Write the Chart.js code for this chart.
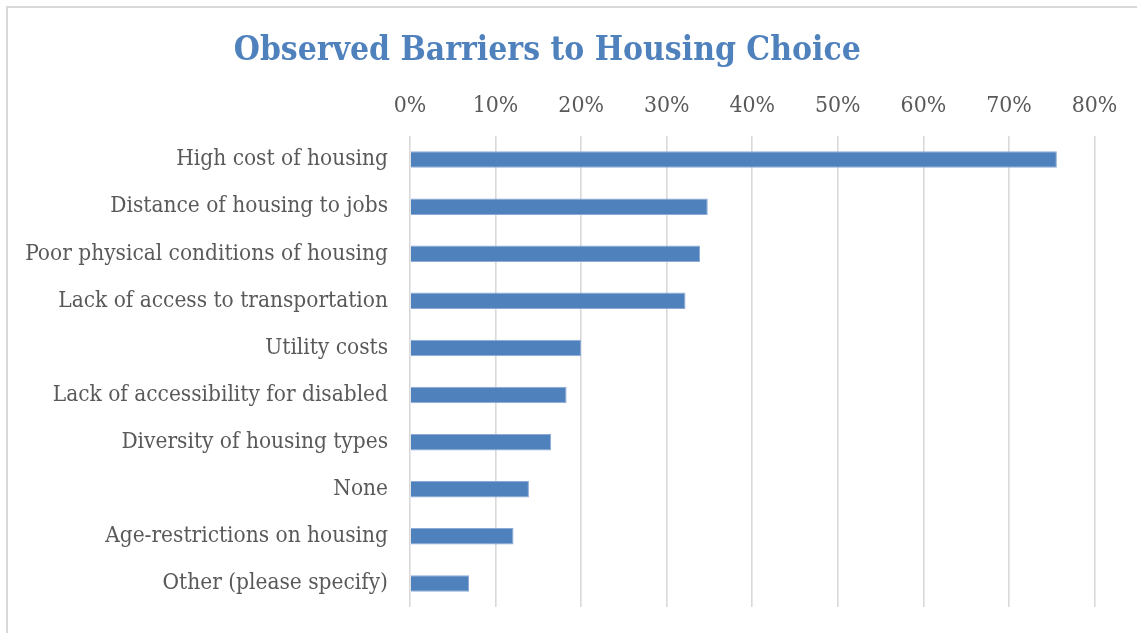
<!DOCTYPE html>
<html>
<head>
<meta charset="utf-8">
<script src="https://cdn.jsdelivr.net/npm/chart.js@4"></script>
<style>
  html, body { margin: 0; padding: 0; background: #fff; overflow: hidden; }
  #wrap { position: relative; width: 1137px; height: 633px; }
  #frame { position: absolute; left: 6px; top: 6px; width: 1160px; height: 660px;
           border: 2px solid #d9d9d9; box-sizing: border-box; pointer-events: none; }
  canvas { position: absolute; left: 0; top: 0; }
</style>
</head>
<body>
<div id="wrap">
  <canvas id="c" width="1137" height="633"></canvas>
  <div id="frame"></div>
</div>
<script>
const titleText = 'Observed Barriers to Housing Choice';
const categories = [
  'High cost of housing',
  'Distance of housing to jobs',
  'Poor physical conditions of housing',
  'Lack of access to transportation',
  'Utility costs',
  'Lack of accessibility for disabled',
  'Diversity of housing types',
  'None',
  'Age-restrictions on housing',
  'Other (please specify)'
];
const values = [75.6, 34.8, 33.9, 32.2, 20.0, 18.3, 16.5, 13.9, 12.1, 6.9];
const tickMin = 0;
const tickMax = 80;
const tickStep = 10;

const FAMILY = '"DejaVu Serif Condensed", "DejaVu Serif", serif';
const mctx = document.createElement('canvas').getContext('2d');
function fitSize(text, targetWidth, weight) {
  mctx.font = (weight || 'normal') + ' 100px ' + FAMILY;
  return 100 * targetWidth / mctx.measureText(text).width;
}
const titleSize = fitSize(titleText, 627, 'bold');
const labelSize = fitSize('Poor physical conditions of housing', 363);
const tickSize = fitSize('10%', 45.6);

const CHART_TOP = 136;
const TITLE_TOP = 51 - titleSize * 0.6;
const TITLE_BOTTOM = TITLE_TOP + titleSize * 1.2;
const TICK_Y = 106.5;

new Chart(document.getElementById('c'), {
  type: 'bar',
  data: {
    labels: categories,
    datasets: [{
      data: values,
      backgroundColor: '#4F81BD',
      borderColor: '#8DAAD6',
      borderWidth: 1,
      borderSkipped: 'start',
      barPercentage: 0.35,
      categoryPercentage: 1.0
    }]
  },
  options: {
    indexAxis: 'y',
    responsive: false,
    animation: false,
    devicePixelRatio: 1,
    layout: { padding: { left: 0, right: 42.5, top: 0, bottom: 26 } },
    plugins: {
      legend: { display: false },
      tooltip: { enabled: false },
      title: {
        display: true,
        text: titleText,
        color: '#4F81BD',
        font: { family: FAMILY, size: titleSize, weight: 'bold', lineHeight: 1.2 },
        padding: { top: TITLE_TOP, bottom: 0 }
      }
    },
    scales: {
      x: {
        type: 'linear',
        position: 'top',
        min: tickMin,
        max: tickMax,
        ticks: {
          stepSize: tickStep,
          color: '#595959',
          font: { family: FAMILY, size: tickSize, lineHeight: 1.2 },
          padding: CHART_TOP - TICK_Y - tickSize * 0.6,
          maxRotation: 0,
          callback: v => v + '%'
        },
        grid: { color: '#d9d9d9', lineWidth: 1.6, drawTicks: false },
        border: { display: false },
        afterFit: s => { s.height = CHART_TOP - TITLE_BOTTOM; s.paddingLeft = 0; s.paddingRight = 0; }
      },
      y: {
        ticks: {
          color: '#595959',
          font: { family: FAMILY, size: labelSize, lineHeight: 1.2 },
          padding: 22,
          autoSkip: false
        },
        grid: { display: false, drawTicks: false },
        border: { display: false },
        afterFit: s => { s.width = 410; s.paddingTop = 0; s.paddingBottom = 0; }
      }
    }
  }
});
</script>
</body>
</html>
